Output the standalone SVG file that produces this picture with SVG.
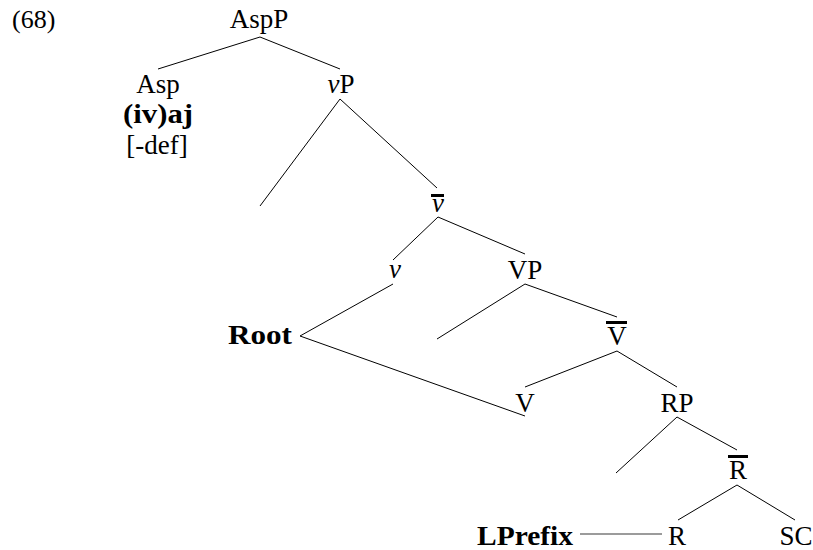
<svg xmlns="http://www.w3.org/2000/svg" width="813" height="550" viewBox="0 0 813 550">
<style>
text{font-family:"Liberation Serif","Times New Roman",serif;font-size:27px;fill:#000;text-anchor:middle}
.b{font-weight:bold}
.i{font-style:italic}
.e{stroke:#000;stroke-width:1;fill:none}
.g{stroke:#7a7a7a;stroke-width:1.6;fill:none}
.bar{fill:#000}
</style>
<rect width="813" height="550" fill="#fff"/>
<text x="12" y="28" style="text-anchor:start;font-size:26px">(68)</text>
<g id="connectors">
<line class="e" x1="260" y1="37" x2="158" y2="69"/>
<line class="e" x1="260" y1="37" x2="340" y2="69"/>
<line class="e" x1="340" y1="99" x2="260" y2="206"/>
<line class="e" x1="340" y1="99" x2="437" y2="188"/>
<line class="e" x1="438" y1="217" x2="393" y2="260"/>
<line class="e" x1="438" y1="217" x2="525" y2="254"/>
<line class="e" x1="393" y1="284" x2="300" y2="336"/>
<line class="e" x1="300" y1="336" x2="525" y2="416"/>
<line class="e" x1="525" y1="284" x2="437" y2="339"/>
<line class="e" x1="525" y1="284" x2="617" y2="317"/>
<line class="e" x1="617" y1="351" x2="525" y2="387"/>
<line class="e" x1="617" y1="351" x2="677" y2="387"/>
<line class="e" x1="677" y1="417" x2="616" y2="473"/>
<line class="e" x1="677" y1="417" x2="737" y2="450"/>
<line class="e" x1="737" y1="485" x2="678" y2="520"/>
<line class="e" x1="737" y1="485" x2="795" y2="520"/>
<line class="g" x1="580" y1="534" x2="662" y2="534"/>
</g>
<g id="AspP"><text x="259" y="28">AspP</text></g>
<g id="Asp">
<text x="158" y="93">Asp</text>
<text class="b" x="158" y="123" textLength="70" lengthAdjust="spacingAndGlyphs">(iv)aj</text>
<text x="157" y="154">[-def]</text>
</g>
<g id="vP"><text x="341" y="93"><tspan class="i">v</tspan>P</text></g>
<g id="vbar"><rect class="bar" x="431" y="194" width="13" height="3"/><text class="i" x="438" y="212">v</text></g>
<g id="v"><text class="i" x="395" y="278">v</text></g>
<g id="VP"><text x="525" y="279">VP</text></g>
<g id="Root"><text class="b" x="260" y="344" textLength="64" lengthAdjust="spacingAndGlyphs">Root</text></g>
<g id="Vbar"><rect class="bar" x="606" y="321" width="21" height="3"/><text x="617" y="345">V</text></g>
<g id="V"><text x="525" y="412">V</text></g>
<g id="RP"><text x="677" y="412">RP</text></g>
<g id="Rbar"><rect class="bar" x="728" y="455" width="20" height="3"/><text x="738" y="479">R</text></g>
<g id="LPrefix"><text class="b" x="525" y="545" textLength="96" lengthAdjust="spacingAndGlyphs">LPrefix</text></g>
<g id="R"><text x="677" y="545">R</text></g>
<g id="SC"><text x="796" y="545">SC</text></g>
</svg>
